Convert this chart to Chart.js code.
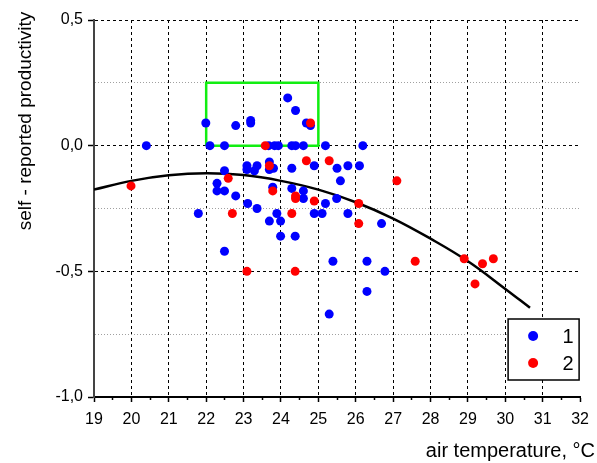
<!DOCTYPE html>
<html>
<head>
<meta charset="utf-8">
<script src="https://cdn.jsdelivr.net/npm/chart.js@4"></script>
<style>
  html, body { margin: 0; padding: 0; background: #fff; }
</style>
</head>
<body>
<canvas id="scatterChart" width="597" height="463"></canvas>
<script>
// group 1 (blue)
const group1X = [20.40, 21.99, 22.10, 22.49, 22.79, 23.19, 23.19, 22.49, 23.09, 23.09, 23.29, 23.36,
    22.29, 22.29, 22.49, 22.79, 23.11, 23.36, 21.79, 24.18, 24.39, 24.68, 24.79,
    23.67, 23.83, 23.93, 24.29, 24.39, 24.60, 25.19, 26.19,
    23.69, 23.69, 23.80, 24.29, 24.89, 25.50, 25.79, 26.10, 25.59, 23.78, 24.29, 24.60, 24.60,
    25.19, 25.49, 23.89, 24.89, 25.10, 25.79, 23.69, 23.99, 26.69, 23.99, 24.38, 22.49,
    25.39, 26.30, 26.78, 26.30, 25.29];
const group1Y = [0.00, 0.09, 0.00, 0.00, 0.08, 0.10, 0.09, -0.10, -0.08, -0.095, -0.10, -0.08,
    -0.15, -0.18, -0.18, -0.20, -0.23, -0.25, -0.27, 0.19, 0.14, 0.09, 0.08,
    0.00, 0.00, 0.00, 0.00, 0.00, 0.00, 0.00, 0.00,
    -0.065, -0.095, -0.09, -0.09, -0.08, -0.09, -0.08, -0.08, -0.14, -0.165, -0.17, -0.18, -0.21,
    -0.23, -0.21, -0.27, -0.27, -0.27, -0.27, -0.30, -0.30, -0.31, -0.36, -0.36, -0.42,
    -0.46, -0.46, -0.50, -0.58, -0.67];

// group 2 (red)
const group2X = [19.99, 22.59, 22.70, 24.79, 23.58, 24.68, 25.29, 23.69, 23.78, 24.39, 24.39, 24.89,
    26.08, 24.29, 26.08, 23.09, 24.38, 27.10, 27.59, 28.90, 29.39, 29.68, 29.19];
const group2Y = [-0.16, -0.13, -0.27, 0.09, 0.00, -0.06, -0.06, -0.08, -0.18, -0.20, -0.21, -0.22,
    -0.23, -0.27, -0.31, -0.50, -0.50, -0.14, -0.46, -0.45, -0.47, -0.45, -0.55];

// fitted curve
const fitX = [19, 20, 21, 22, 23, 24, 25, 26, 27, 28, 29, 30, 30.66];
const fitY = [-0.175, -0.14, -0.118, -0.11, -0.117, -0.14, -0.175, -0.225, -0.29, -0.37, -0.46, -0.57, -0.645];

// green frame
const frameX = [22, 22, 25, 25, 22];
const frameY = [0, 0.25, 0.25, 0, 0];

const legendLabels = ['1', '2'];

const toPoints = (xs, ys) => xs.map((x, i) => ({ x: x, y: ys[i] }));
const fmt = v => v.toFixed(1).replace('.', ',');
const isMajorY = v => Math.abs(v * 2 - Math.round(v * 2)) < 1e-6;
const FONT = '"Liberation Sans", Arial, sans-serif';

const decor = {
    id: 'decor',
    afterDraw(chart) {
        const ctx = chart.ctx;
        const area = chart.chartArea;
        ctx.save();
        ctx.fillStyle = '#000';

        // y title
        ctx.save();
        ctx.font = '19px ' + FONT;
        ctx.translate(26, 121);
        ctx.rotate(-Math.PI / 2);
        ctx.textAlign = 'center';
        ctx.textBaseline = 'middle';
        ctx.fillText('self - reported productivity', 0, 0);
        ctx.restore();

        // x title
        ctx.font = '20px ' + FONT;
        ctx.textAlign = 'right';
        ctx.textBaseline = 'alphabetic';
        ctx.fillText('air temperature, \u00B0C', 595, 457);

        // legend box
        const bx = area.right - 72, by = area.bottom - 78, bw = 71, bh = 61;
        ctx.fillStyle = '#fff';
        ctx.fillRect(bx, by, bw, bh);
        ctx.strokeStyle = '#000';
        ctx.lineWidth = 1.5;
        ctx.strokeRect(bx, by, bw, bh);
        const colors = [chart.data.datasets[1].backgroundColor, chart.data.datasets[0].backgroundColor];
        ctx.font = '20px ' + FONT;
        ctx.textAlign = 'center';
        ctx.textBaseline = 'middle';
        legendLabels.forEach((lab, i) => {
            const cy = by + 17 + i * 27;
            ctx.fillStyle = colors[i];
            ctx.beginPath();
            ctx.arc(bx + 25, cy, 5, 0, Math.PI * 2);
            ctx.fill();
            ctx.fillStyle = '#000';
            ctx.fillText(lab, bx + 60, cy + 1);
        });
        ctx.restore();
    }
};

new Chart(document.getElementById('scatterChart'), {
    type: 'scatter',
    data: {
        datasets: [
            {
                label: '2',
                data: toPoints(group2X, group2Y),
                backgroundColor: '#ff0000',
                borderWidth: 0,
                pointRadius: 4.5,
                xAxisID: 'x',
                order: 0
            },
            {
                label: '1',
                data: toPoints(group1X, group1Y),
                backgroundColor: '#0000ff',
                borderWidth: 0,
                pointRadius: 4.5,
                xAxisID: 'x',
                order: 1
            },
            {
                label: 'fit',
                data: toPoints(fitX, fitY),
                showLine: true,
                borderColor: '#000',
                borderWidth: 2.5,
                pointRadius: 0,
                tension: 0.4,
                xAxisID: 'x',
                order: 2
            },
            {
                label: 'frame',
                data: toPoints(frameX, frameY),
                showLine: true,
                borderColor: '#11ee11',
                borderWidth: 2.5,
                pointRadius: 0,
                tension: 0,
                xAxisID: 'x',
                order: 3
            }
        ]
    },
    options: {
        responsive: false,
        animation: false,
        devicePixelRatio: 1,
        layout: { padding: { top: 20, right: 13, left: 0, bottom: 0 } },
        plugins: {
            legend: { display: false },
            tooltip: { enabled: false }
        },
        scales: {
            x: {
                type: 'linear',
                position: 'bottom',
                weight: 1,
                min: 19,
                max: 32,
                afterFit: scale => { scale.height = 66; },
                ticks: {
                    stepSize: 1,
                    color: '#000',
                    padding: 8,
                    font: { family: FONT, size: 16 },
                    callback: v => String(v)
                },
                grid: {
                    lineWidth: 1,
                    color: c => (c.tick && (c.tick.value === 19 || c.tick.value === 32)) ? 'rgba(0,0,0,0)' : '#000',
                    tickColor: '#000',
                    tickLength: 5,
                    tickWidth: 1.5,
                    tickBorderDash: []
                },
                border: { display: true, color: '#000', width: 2, dash: [3, 3] }
            },
            xMinor: {
                type: 'linear',
                position: 'bottom',
                weight: 0,
                min: 19,
                max: 32,
                afterFit: scale => { scale.height = 0; },
                ticks: { stepSize: 0.5, display: false },
                grid: {
                    drawOnChartArea: false,
                    tickColor: c => (c.tick && Number.isInteger(c.tick.value)) ? 'rgba(0,0,0,0)' : '#000',
                    tickLength: 3,
                    tickWidth: 1.5,
                    tickBorderDash: []
                },
                border: { display: false }
            },
            y: {
                min: -1,
                max: 0.5,
                afterFit: scale => { scale.width = 94; },
                ticks: {
                    stepSize: 0.25,
                    color: '#000',
                    padding: 5,
                    font: { family: FONT, size: 16 },
                    callback: v => isMajorY(v) ? fmt(v) : ''
                },
                grid: {
                    lineWidth: 1,
                    color: c => {
                        if (!c.tick) return '#000';
                        const v = c.tick.value;
                        if (Math.abs(v + 1) < 1e-6) return 'rgba(0,0,0,0)';
                        return isMajorY(v) ? '#000' : '#a0a0a0';
                    },
                    tickColor: c => (c.tick && isMajorY(c.tick.value)) ? '#000' : 'rgba(0,0,0,0)',
                    tickLength: 6,
                    tickWidth: 1.5,
                    tickBorderDash: []
                },
                border: {
                    display: true,
                    color: '#444',
                    width: 2,
                    dash: c => (c.tick && !isMajorY(c.tick.value)) ? [1, 2] : [3, 3]
                }
            }
        }
    },
    plugins: [decor]
});
</script>
</body>
</html>
